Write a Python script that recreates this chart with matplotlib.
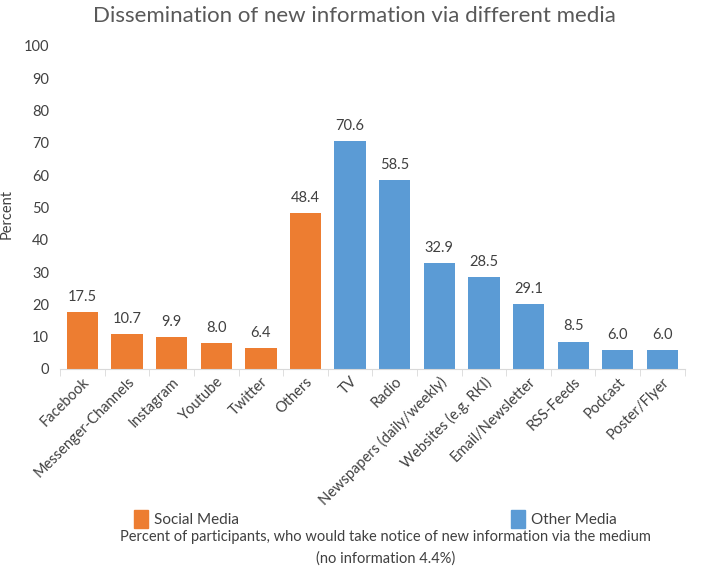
import numpy as np
import matplotlib
matplotlib.use("Agg")
import matplotlib.pyplot as plt
from matplotlib.patches import Patch

plt.rcParams['font.family'] = ['Lato', 'DejaVu Sans']

categories = ["Facebook", "Messenger-Channels", "Instagram", "Youtube", "Twitter", "Others",
              "TV", "Radio", "Newspapers (daily/weekly)", "Websites (e.g. RKI)",
              "Email/Newsletter", "RSS-Feeds", "Podcast", "Poster/Flyer"]
# bar heights as drawn
values = [17.5, 10.7, 9.9, 8.0, 6.4, 48.4, 70.6, 58.5, 32.9, 28.5, 20.1, 8.5, 6.0, 6.0]
# value labels as printed above the bars
value_labels = ["17.5", "10.7", "9.9", "8.0", "6.4", "48.4", "70.6", "58.5",
                "32.9", "28.5", "29.1", "8.5", "6.0", "6.0"]
groups = ["Social Media"] * 6 + ["Other Media"] * 8

orange = "#ED7D31"
blue = "#5B9BD5"
txt = "#404040"
colors = [orange if g == "Social Media" else blue for g in groups]

fig = plt.figure(figsize=(7.08, 5.82), dpi=100)
ax = fig.add_axes([0.085, 0.366, 0.882, 0.555])

x = np.arange(len(categories))
bars = ax.bar(x, values, width=0.7, color=colors)
for b, lab in zip(bars, value_labels):
    ax.text(b.get_x() + b.get_width() / 2, b.get_height() + 2.5, lab,
            ha="center", va="bottom", fontsize=10.5, color=txt)

ax.set_xlim(-0.5, len(categories) - 0.5)
ax.set_ylim(0, 100)
ax.set_yticks(range(0, 101, 10))
ax.tick_params(axis="y", length=0, labelsize=10.5, labelcolor=txt, pad=8)
ax.set_xticks(x)
ax.set_xticklabels(categories, rotation=45, ha="right", rotation_mode="anchor",
                   fontsize=10.5, color=txt)
ax.tick_params(axis="x", which="major", length=0, pad=4)
ax.set_xticks(np.arange(-0.5, len(categories), 1), minor=True)
ax.tick_params(axis="x", which="minor", length=5, color="#D9D9D9")

for s in ["top", "right", "left"]:
    ax.spines[s].set_visible(False)
ax.spines["bottom"].set_color("#D9D9D9")

ax.set_ylabel("Percent", fontsize=10.5, color=txt)
ax.yaxis.set_label_coords(-0.075, 0.48)

fig.text(0.5, 0.972, "Dissemination of new information via different media",
         ha="center", va="center", fontsize=16, color="#595959")

fig.legend(handles=[Patch(color=orange, label="Social Media")], loc="center left",
           bbox_to_anchor=(0.170, 0.108), frameon=False, fontsize=11,
           handlelength=0.9, handleheight=1.4, handletextpad=0.4, labelcolor=txt)
fig.legend(handles=[Patch(color=blue, label="Other Media")], loc="center left",
           bbox_to_anchor=(0.703, 0.108), frameon=False, fontsize=11,
           handlelength=0.9, handleheight=1.4, handletextpad=0.4, labelcolor=txt)

fig.text(0.545, 0.077, "Percent of participants, who would take notice of new information via the medium",
         ha="center", va="center", fontsize=10.5, color=txt)
fig.text(0.545, 0.040, "(no information 4.4%)", ha="center", va="center",
         fontsize=10.5, color=txt)

fig.savefig("out.png", dpi=100)
